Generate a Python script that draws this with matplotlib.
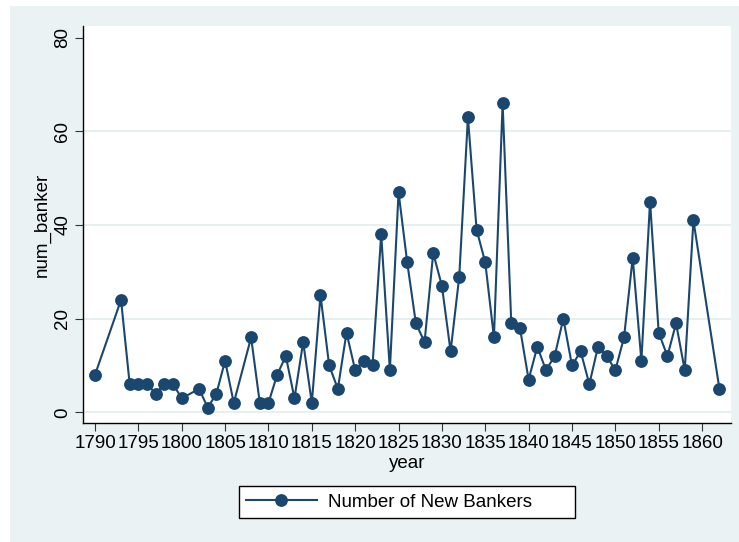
#!/usr/bin/env python3

import matplotlib
matplotlib.use('Agg')
import matplotlib.pyplot as plt
from matplotlib.patches import Rectangle

# New bankers per year
years = [1790, 1793, 1794, 1795, 1796, 1797, 1798, 1799, 1800,
         1802, 1803, 1804, 1805, 1806,
         1808, 1809, 1810, 1811, 1812, 1813, 1814, 1815, 1816, 1817,
         1818, 1819, 1820, 1821, 1822, 1823, 1824, 1825, 1826, 1827,
         1828, 1829, 1830, 1831, 1832, 1833, 1834, 1835, 1836, 1837,
         1838, 1839, 1840, 1841, 1842, 1843, 1844, 1845, 1846, 1847,
         1848, 1849, 1850, 1851, 1852, 1853, 1854, 1855, 1856, 1857,
         1858, 1859, 1862]
num_banker = [8, 24, 6, 6, 6, 4, 6, 6, 3,
              5, 1, 4, 11, 2,
              16, 2, 2, 8, 12, 3, 15, 2, 25, 10,
              5, 17, 9, 11, 10, 38, 9, 47, 32, 19,
              15, 34, 27, 13, 29, 63, 39, 32, 16, 66,
              19, 18, 7, 14, 9, 12, 20, 10, 13, 6,
              14, 12, 9, 16, 33, 11, 45, 17, 12, 19,
              9, 41, 5]

x_ticks = list(range(1790, 1861, 5))
y_ticks = [0, 20, 40, 60, 80]
series_label = 'Number of New Bankers'

NAVY = '#1A476F'
BG = '#EAF2F3'
GRID = '#E3ECEF'
FONT_SIZE = 13.5


def plot_bankers(output_filename='out.png'):
    plt.rcParams['font.family'] = ['Liberation Sans', 'DejaVu Sans']

    fig = plt.figure(figsize=(7.39, 5.42), dpi=100)
    fig.patch.set_facecolor('white')
    # shaded graph region (thin white strip left and top)
    fig.add_artist(Rectangle((10 / 739, 0), 1 - 10 / 739, 1 - 6 / 542,
                             transform=fig.transFigure, facecolor=BG,
                             edgecolor='none', zorder=-1))

    ax = fig.add_axes([83.3 / 739, 1 - 423.3 / 542,
                       (730.7 - 83.3) / 739, (423.3 - 26) / 542])
    ax.set_facecolor('white')

    ax.plot(years, num_banker, '-o', color=NAVY, linewidth=1.5,
            markersize=8.2, label=series_label, zorder=3)

    ax.set_xlim(1788.65, 1863.3)
    ax.set_ylim(-2.35, 82.5)
    ax.set_xticks(x_ticks)
    ax.set_xticklabels([str(x) for x in x_ticks])
    ax.set_yticks(y_ticks)
    ax.set_yticklabels([str(y) for y in y_ticks], rotation=90, va='center')

    ax.tick_params(axis='both', direction='out', length=6, width=0.8,
                   color='#333333', labelsize=FONT_SIZE, labelcolor='black')
    ax.tick_params(axis='x', pad=2.5)
    ax.tick_params(axis='y', pad=2.5)

    for side in ['top', 'right']:
        ax.spines[side].set_visible(False)
    for side in ['left', 'bottom']:
        ax.spines[side].set_color('black')
        ax.spines[side].set_linewidth(1.0)

    ax.yaxis.grid(True, color=GRID, linewidth=1.2, zorder=0)
    ax.set_axisbelow(True)
    # no gridline along the top value
    ax.yaxis.get_gridlines()[-1].set_visible(False)

    ax.set_xlabel('year', fontsize=FONT_SIZE)
    ax.set_ylabel('num_banker', fontsize=FONT_SIZE)
    ax.xaxis.set_label_coords(0.5, -0.1)
    ax.xaxis.label.set_va('center')
    ax.yaxis.set_label_coords((42 - 83.3) / 647.4, 0.5)
    ax.yaxis.label.set_va('center')

    leg = fig.legend(loc='center', mode='expand', borderaxespad=0,
                     bbox_to_anchor=(238.7 / 739, 1 - 519.7 / 542,
                                     336.6 / 739, 35.4 / 542),
                     fontsize=FONT_SIZE, numpoints=1, handlelength=3.75,
                     handletextpad=0.6, borderpad=0.4, fancybox=False,
                     framealpha=1, edgecolor='black', facecolor='white')
    leg.get_frame().set_linewidth(1.0)

    fig.savefig(output_filename, dpi=100, facecolor=fig.get_facecolor())
    plt.close(fig)


def main():
    plot_bankers('out.png')


if __name__ == "__main__":
    main()
